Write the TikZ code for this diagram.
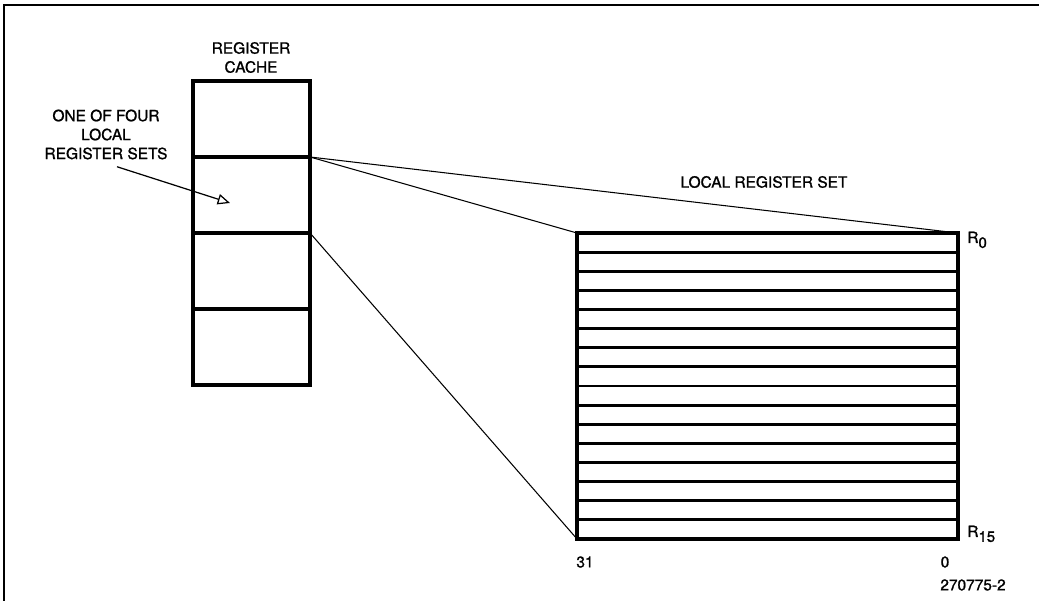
\documentclass[tikz,border=0pt]{standalone}
\usepackage{fontspec}
\setmainfont{TeX Gyre Heros}[FakeBold=1.2]
\usetikzlibrary{arrows.meta,positioning,calc}

\newcommand{\regidx}[1]{\raisebox{-0.6ex}{\fontsize{8.5}{9}\selectfont #1}}

\begin{document}
\begin{tikzpicture}[x=0.02cm,y=-0.02cm,
    cell/.style={draw, line width=1.8pt, minimum width=2.34cm, minimum height=1.52cm,
      inner sep=0pt, outer sep=0pt},
    regset/.style={draw, line width=1.8pt, minimum width=7.62cm, minimum height=6.12cm,
      inner sep=0pt, outer sep=0pt},
    lbl/.style={font=\fontsize{8.8}{10.8}\selectfont, align=center, inner sep=0pt},
    link/.style={line width=0.6pt}]
  \useasboundingbox (0,0) rectangle (1039,601);

  % Frame (only top and left edges in view)
  \draw[line width=1.1pt] (4,640) -- (4,5) -- (1080,5);

  % Register cache
  \node[lbl] (cachelbl) at (251,57.5) {REGISTER\\CACHE};
  \node[cell] (c1) at (251.5,119) {};
  \node[cell, below=0pt of c1] (c2) {};
  \node[cell, below=0pt of c2] (c3) {};
  \node[cell, below=0pt of c3] (c4) {};

  % Pointer to one set
  \node[lbl] (setlbl) at (106,134.5) {ONE OF FOUR\\LOCAL\\REGISTER SETS};
  \coordinate (settip) at (230,203);
  \draw[line width=0.7pt, -{Triangle[open,length=7pt,width=6pt]}]
    ([shift={(11,7)}]setlbl.south) -- (settip);

  % Local register set
  \node[regset] (lrs) at (767.5,386) {};
  \foreach \i in {1,...,15}
    \draw[line width=1.6pt] ($(lrs.north west)!\i/16!(lrs.south west)$)
      -- ($(lrs.north east)!\i/16!(lrs.south east)$);
  \node[lbl] (lrslbl) at (764,182) {LOCAL REGISTER SET};

  % Expansion lines
  \draw[link] (c2.north east) -- (lrs.north east);
  \draw[link] (c2.north east) -- (lrs.north west);
  \draw[link] (c3.north east) -- (lrs.south west);

  % Register and bit labels
  \node[lbl, anchor=base west] (r0) at (967,243) {R\regidx{0}};
  \node[lbl, anchor=base west] (r15) at (967,537) {R\regidx{15}};
  \node[lbl] (msb) at (585,562) {31};
  \node[lbl] (lsb) at (945,562) {0};
  \node[lbl] (figno) at (973,585) {270775-2};
\end{tikzpicture}
\end{document}
